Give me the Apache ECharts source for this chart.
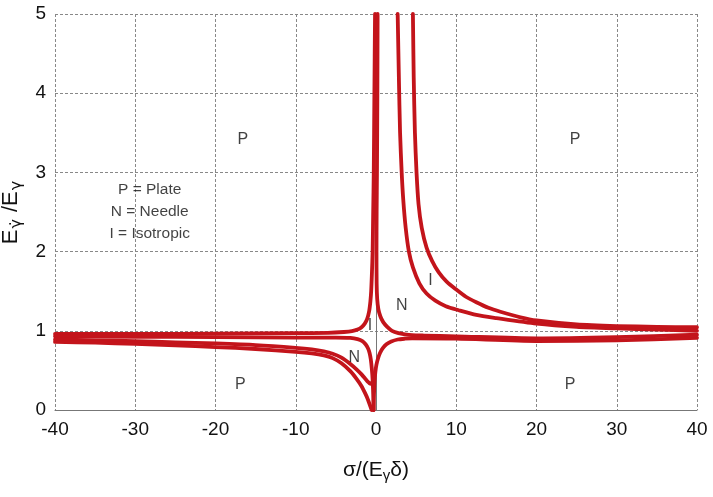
<!DOCTYPE html>
<html>
<head>
<meta charset="utf-8">
<script src="https://cdn.jsdelivr.net/npm/echarts@6/dist/echarts.min.js"></script>
<style>html,body{margin:0;padding:0;background:#fff}#c{width:713px;height:497px}</style>
</head>
<body>
<div id="c"></div>
<script>
// x: sigma/(E_gamma delta), y: E_gammadot/E_gamma
const xTicks = [-40, -30, -20, -10, 0, 10, 20, 30, 40];
const yTicks = [0, 1, 2, 3, 4, 5];

// upper-left branch (rises to the vertical at x ~ 0-)
const curveC1 = [[-40,0.96],[-30,0.96],[-20,0.965],[-10,0.97],[-6,0.975],[-4,0.985],[-3,0.995],[-2.3,1.015],[-1.8,1.045],[-1.4,1.09],[-1.1,1.15],[-0.85,1.25],[-0.7,1.37],[-0.6,1.5],[-0.5,1.75],[-0.42,2.0],[-0.35,2.5],[-0.28,3],[-0.2,4],[-0.12,5]];
// upper-right branch (comes down from the vertical at x ~ 0+, runs right)
const curveC2 = [[0.2,5],[0.17,4],[0.12,3],[0.08,2.5],[0.06,2],[0.08,1.6],[0.15,1.4],[0.3,1.27],[0.55,1.18],[0.9,1.11],[1.4,1.05],[2.0,1.0],[2.8,0.97],[3.6,0.955],[4.5,0.945],[6,0.94],[10,0.93],[20,0.905],[30,0.92],[40,0.95]];
// lower-left branch of the central cross
const curveC3 = [[-40,0.93],[-30,0.925],[-20,0.92],[-10,0.915],[-5,0.915],[-3.2,0.91],[-2.3,0.895],[-1.7,0.87],[-1.3,0.83],[-1.0,0.78],[-0.8,0.72],[-0.65,0.64],[-0.52,0.52],[-0.42,0.38],[-0.35,0.2],[-0.3,0]];
// lower-right branch of the central cross
const curveC4 = [[-0.3,0],[-0.25,0.2],[-0.18,0.36],[-0.08,0.48],[0.05,0.57],[0.25,0.65],[0.5,0.72],[0.85,0.78],[1.3,0.83],[1.9,0.865],[2.7,0.89],[3.6,0.9],[4.5,0.905],[10,0.9],[20,0.87],[30,0.88],[40,0.91]];
// lower-left pair (N region lower boundaries)
const curveD1 = [[-40,0.89],[-35,0.88],[-30,0.87],[-25,0.855],[-20,0.84],[-15,0.82],[-10,0.785],[-8,0.765],[-6.5,0.74],[-5.4,0.71],[-4.3,0.66],[-3.2,0.58],[-2.4,0.51],[-1.8,0.45],[-1.3,0.39],[-1.0,0.355],[-0.8,0.335],[-0.62,0.33],[-0.48,0.35]];
const curveD2 = [[-40,0.86],[-35,0.85],[-30,0.835],[-25,0.815],[-20,0.795],[-15,0.77],[-10,0.735],[-8,0.715],[-6.5,0.69],[-5.4,0.655],[-4.3,0.59],[-3.2,0.49],[-2.4,0.39],[-1.8,0.3],[-1.3,0.2],[-1.0,0.13],[-0.75,0.06],[-0.55,0]];
// right-hand pair (I region boundaries)
const curveA = [[2.7,5],[2.85,4.2],[3.0,3.5],[3.2,3.0],[3.4,2.65],[3.7,2.3],[4.1,2.0],[4.6,1.8],[5.4,1.6],[6.3,1.47],[7.4,1.38],[8.7,1.31],[10.3,1.26],[12.5,1.2],[15,1.16],[20,1.09],[25,1.05],[30,1.03],[35,1.015],[40,1.0]];
const curveB = [[4.6,5],[4.7,4.2],[4.85,3.5],[5.05,3.0],[5.3,2.6],[5.7,2.3],[6.3,2.05],[7.0,1.88],[7.8,1.74],[8.8,1.62],[10,1.52],[11.2,1.43],[12.5,1.36],[14,1.29],[15.5,1.24],[18,1.17],[20,1.13],[25,1.08],[30,1.06],[35,1.05],[40,1.045]];

// region labels: [x, y, text]
const regionLabels = [[-16.6,3.42,'P'],[24.8,3.42,'P'],[-16.9,0.32,'P'],[24.2,0.32,'P'],[3.2,1.32,'N'],[6.8,1.64,'I'],[-0.75,1.06,'I'],[-2.7,0.66,'N']];
const keyText = ['P = Plate', 'N = Needle', 'I = Isotropic'];
const keyPos = [-28.2, 2.5];

const FONT = '"Liberation Sans", Arial, Helvetica, sans-serif';
const RED = '#c3141b';

function curve(data) {
  return {
    type: 'line', data: data, smooth: 0.25, symbol: 'none', silent: true,
    lineStyle: { color: RED, width: 3.8, cap: 'round', join: 'round' },
    z: 3
  };
}

const chart = echarts.init(document.getElementById('c'), null, { renderer: 'canvas' });
chart.setOption({
  backgroundColor: '#ffffff',
  animation: false,
  grid: { left: 55, right: 16, top: 14, bottom: 87, containLabel: false, outerBoundsMode: 'none' },
  xAxis: {
    type: 'value', min: xTicks[0], max: xTicks[xTicks.length - 1], interval: 10,
    name: 'σ/(E{sub|γ}δ)', nameLocation: 'middle', nameGap: 48,
    nameTextStyle: { fontFamily: FONT, fontSize: 21, color: '#111',
      rich: { sub: { fontFamily: FONT, fontSize: 15, verticalAlign: 'bottom', padding: [10, 0, 0, 0], color: '#111' } } },
    axisLine: { show: true, lineStyle: { color: '#777', width: 1 } },
    axisTick: { show: false },
    axisLabel: { fontFamily: FONT, fontSize: 19, color: '#111', margin: 10 },
    splitLine: { show: true, lineStyle: { color: '#888', width: 1, type: [3, 2] } }
  },
  yAxis: {
    type: 'value', min: yTicks[0], max: yTicks[yTicks.length - 1], interval: 1,
    name: 'E{sub|γ̇} /E{sub|γ}', nameLocation: 'middle', nameGap: 30, nameRotate: 90,
    nameTextStyle: { fontFamily: FONT, fontSize: 22, color: '#111',
      rich: { sub: { fontFamily: '"DejaVu Sans", sans-serif', fontSize: 16, color: '#111', padding: [12, 1, 0, 1] } } },
    axisLine: { show: true, lineStyle: { color: '#777', width: 1 } },
    axisTick: { show: false },
    axisLabel: { fontFamily: FONT, fontSize: 19, color: '#111', margin: 9 },
    splitLine: { show: true, lineStyle: { color: '#888', width: 1, type: [3, 2] } }
  },
  series: [
    curve(curveC1), curve(curveC2), curve(curveC3), curve(curveC4),
    curve(curveD1), curve(curveD2), curve(curveA), curve(curveB),
    {
      type: 'scatter', symbolSize: 0, silent: true, z: 5,
      data: regionLabels.map(r => ({ value: [r[0], r[1]], name: r[2] })),
      label: { show: true, position: 'inside', formatter: p => p.name,
        fontFamily: FONT, fontSize: 16, color: '#111' }
    },
    {
      type: 'scatter', symbolSize: 0, silent: true, z: 5,
      data: [{ value: keyPos, name: keyText.join('\n') }],
      label: { show: true, position: 'inside', formatter: p => p.name, align: 'center',
        fontFamily: FONT, fontSize: 15.5, lineHeight: 22, color: '#111' }
    }
  ]
});
</script>
</body>
</html>
